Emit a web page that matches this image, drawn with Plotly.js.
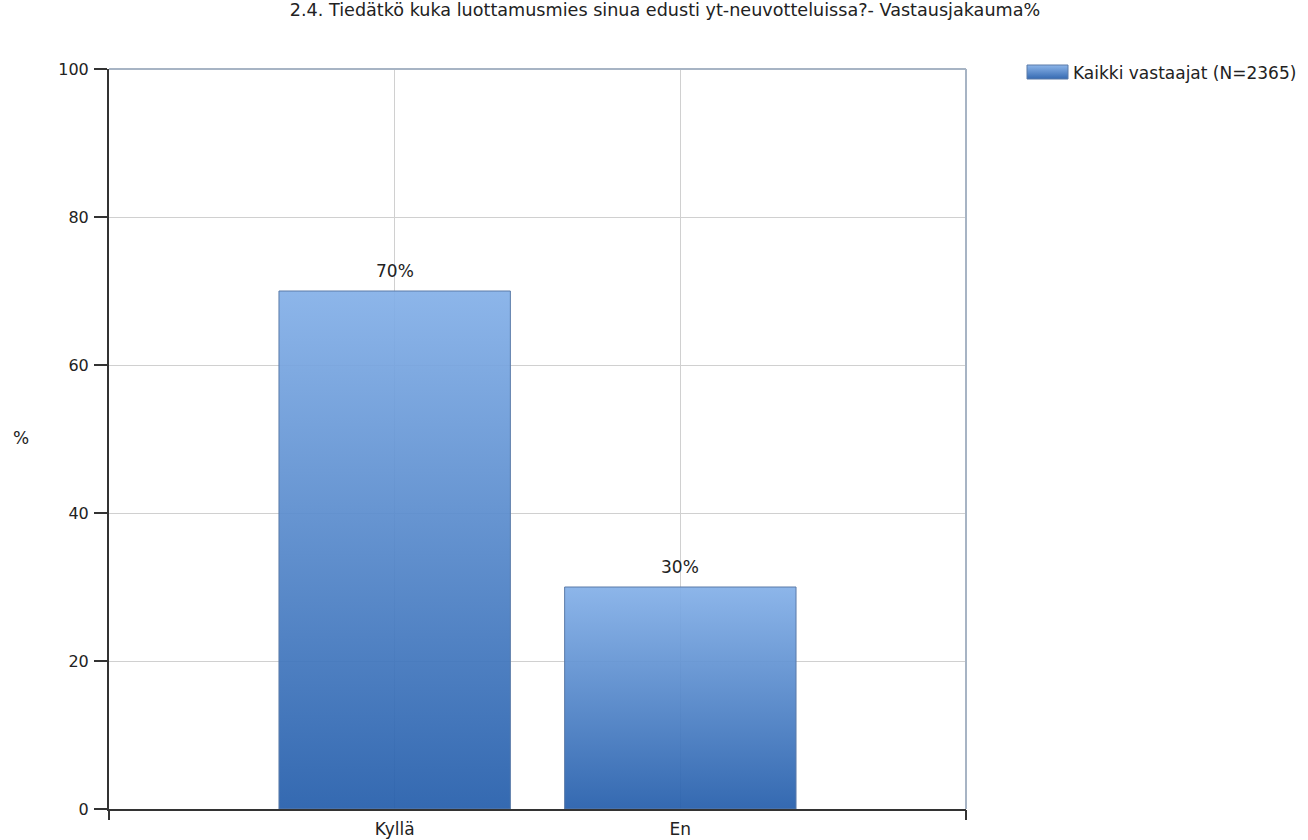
<!DOCTYPE html>
<html><head><meta charset="utf-8">
<script src="https://cdn.plot.ly/plotly-3.0.1.min.js"></script>
<style>body{margin:0;background:#fff}#chart{width:1308px;height:840px}</style>
</head><body><div id="chart"></div>
<script>
const categories = ["Kyllä", "En"];
const values = [70, 30];
const seriesName = "Kaikki vastaajat (N=2365)";
const yTicks = [0, 20, 40, 60, 80, 100];
const titleText = "2.4. Tiedätkö kuka luottamusmies sinua edusti yt-neuvotteluissa?- Vastausjakauma%";
const yTitle = "%";

const FONT = "DejaVu Sans, Verdana, sans-serif";
const TXT = "#222";
const trace = {
  type: "bar", x: categories, y: values, name: seriesName,
  width: 0.81,
  marker: {color: "#5f8fd0", line: {color: "#5b7ba8", width: 1}},
  hoverinfo: "none", showlegend: true
};
const axisTicks = {
  type: "scatter", x: [null], y: [null], xaxis: "x2", showlegend: false, hoverinfo: "none"
};
const layout = {
  width: 1308, height: 840,
  margin: {l: 109, r: 342, t: 69, b: 31},
  paper_bgcolor: "#fff", plot_bgcolor: "#fff",
  font: {family: FONT, size: 17, color: TXT},
  title: {text: titleText, x: 665 / 1308, xanchor: "center", xref: "container", y: 1 - 4 / 840, yanchor: "top",
          font: {family: FONT, size: 17.6, color: TXT}},
  xaxis: {type: "category", range: [-1, 2], showgrid: true, gridcolor: "#d0d0d0", gridwidth: 1,
          showline: true, linecolor: "#333", linewidth: 2, ticks: "", tickfont: {size: 17, color: TXT},
          ticklabelstandoff: 4, zeroline: false, fixedrange: true},
  xaxis2: {overlaying: "x", range: [-1, 2], tickvals: [-1, 2], ticktext: ["", ""], ticks: "outside",
           ticklen: 10, tickwidth: 2, tickcolor: "#333", showgrid: false, showline: false,
           zeroline: false, side: "bottom", anchor: "y", fixedrange: true},
  yaxis: {range: [0, 100], tickvals: yTicks, showgrid: true, gridcolor: "#d0d0d0", gridwidth: 1,
          showline: true, linecolor: "#333", linewidth: 2, ticks: "outside", ticklen: 13,
          tickwidth: 2, tickcolor: "#333", zeroline: false, tickfont: {size: 16, color: TXT},
          ticklabelstandoff: 2, fixedrange: true},
  legend: {x: 1.07, xanchor: "left", y: 1.0, yanchor: "top", font: {size: 17, family: FONT, color: TXT},
           bgcolor: "rgba(0,0,0,0)"},
  shapes: [
    {type: "line", xref: "paper", yref: "paper", x0: 0, x1: 1, y0: 1, y1: 1, line: {color: "#a7b4c4", width: 2}},
    {type: "line", xref: "paper", yref: "paper", x0: 1, x1: 1, y0: 0, y1: 1, line: {color: "#a7b4c4", width: 2}}
  ],
  annotations: categories.map((c, i) => ({
    x: c, y: values[i], xref: "x", yref: "y", text: values[i] + "%", showarrow: false,
    yanchor: "bottom", yshift: 8, font: {size: 17, family: FONT, color: TXT}
  })).concat([{
    text: yTitle, xref: "paper", yref: "paper", x: (21 - 109) / 857, y: (809 - 438) / 740,
    xanchor: "center", yanchor: "middle", showarrow: false, font: {size: 17, family: FONT, color: TXT}
  }])
};

function addGradient(gd) {
  const svg = gd.querySelector("svg.main-svg");
  const ns = "http://www.w3.org/2000/svg";
  if (svg.querySelector("#barGrad")) return;
  let defs = svg.querySelector("defs");
  const grad = document.createElementNS(ns, "linearGradient");
  grad.setAttribute("id", "barGrad");
  grad.setAttribute("x1", "0"); grad.setAttribute("y1", "0");
  grad.setAttribute("x2", "0"); grad.setAttribute("y2", "1");
  [["0", "#84b0e8"], ["1", "#255eab"]].forEach(([o, c]) => {
    const s = document.createElementNS(ns, "stop");
    s.setAttribute("offset", o); s.setAttribute("stop-color", c);
    grad.appendChild(s);
  });
  defs.appendChild(grad);
}

function restyleDom(gd) {
  addGradient(gd);
  gd.querySelectorAll(".barlayer .point path").forEach(p => {
    p.style.fill = "url(#barGrad)"; p.style.fillOpacity = "0.93";
  });
  const leg = gd.querySelector(".legend");
  if (!leg) return;
  leg.querySelectorAll("[clip-path]").forEach(el => el.removeAttribute("clip-path"));
  const lps = leg.querySelectorAll(".legendpoints path");
  const lt = leg.querySelector(".legendtext");
  if (!lps.length || !lt) return;
  const lp = lps[0];
  lp.setAttribute("d", "M-20,-7H21V7H-20Z");
  lp.setAttribute("transform", "");
  lp.style.fill = "url(#barGrad)";
  lp.style.fillOpacity = "0.93";
  lp.style.stroke = "#5b7ba8";
  lp.style.strokeWidth = "1px";
  let pr = lp.getBoundingClientRect();
  let tr = lt.getBoundingClientRect();
  const dx = (tr.left - 5) - pr.right;
  lp.setAttribute("transform", "translate(" + dx + ",0)");
  pr = lp.getBoundingClientRect();
  tr = lt.getBoundingClientRect();
  const m = /translate\(([-\d.]+),\s*([-\d.]+)\)/.exec(leg.getAttribute("transform"));
  const lx = parseFloat(m[1]) + (1073 - tr.left);
  const ly = parseFloat(m[2]) + (72 - (pr.top + pr.bottom) / 2);
  leg.setAttribute("transform", "translate(" + lx + "," + ly + ")");
}

Plotly.newPlot("chart", [trace, axisTicks], layout, {displayModeBar: false, staticPlot: true}).then(gd => {
  setTimeout(() => restyleDom(gd), 50);
});
</script></body></html>
